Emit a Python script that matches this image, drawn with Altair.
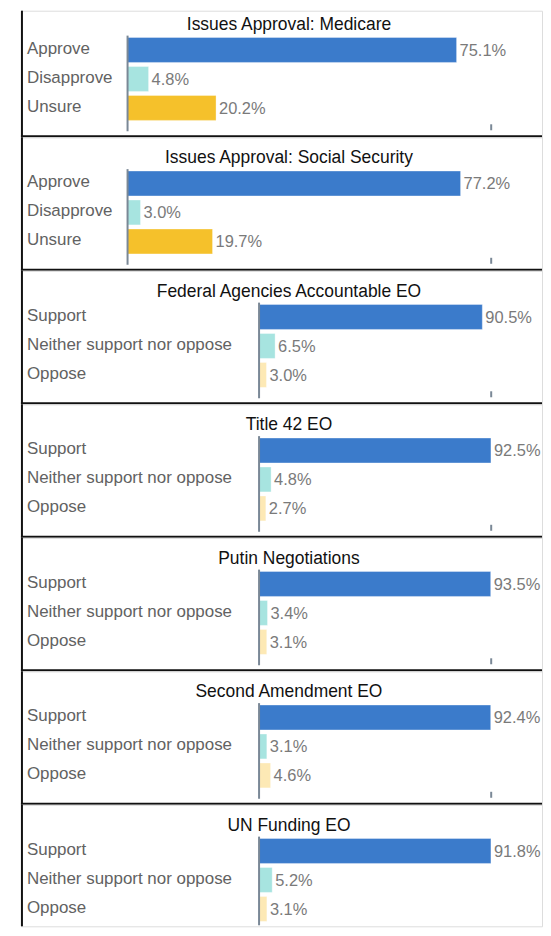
import altair as alt
import pandas as pd

# ---- data ----
titles = [
    "Issues Approval: Medicare",
    "Issues Approval: Social Security",
    "Federal Agencies Accountable EO",
    "Title 42 EO",
    "Putin Negotiations",
    "Second Amendment EO",
    "UN Funding EO",
]
approve_labels = ["Approve", "Disapprove", "Unsure"]
support_labels = ["Support", "Neither support nor oppose", "Oppose"]

medicare = [75.1, 4.8, 20.2]
social_security = [77.2, 3.0, 19.7]
federal_agencies = [90.5, 6.5, 3.0]
title_42 = [92.5, 4.8, 2.7]
putin = [93.5, 3.4, 3.1]
second_amendment = [92.4, 3.1, 4.6]
un_funding = [91.8, 5.2, 3.1]

# horizontal-axis maximum of each panel (where the small end tick sits)
axis_max = [83.0, 84.3, 94.1, 92.6, 93.7, 92.6, 91.9]

# ---- styling ----
BLUE, TEAL, YELLOW, PALE = "#3b7bcb", "#a7e4e0", "#f5c12b", "#fde9b5"
AXIS_COL = "#7a8896"
FONT = "Liberation Sans"
W = 523          # visible width of every panel (page is cropped on the right)
FULL_H = 134     # full panel height
TITLE_X = 269    # centre of the (uncropped) panel
X_END = 472


def panel(i, title, labels, values, colors, x0, cut=0, h=FULL_H, bottom_line=True):
    """cut: pixels removed at the top of the panel, h: visible panel height."""
    df = pd.DataFrame({
        "label": labels,
        "value": values,
        "text": [f"{v:.1f}%" for v in values],
        "color": colors,
    })
    meta = pd.DataFrame({"title": [title], "xmax": [axis_max[i]]})
    xs = alt.Scale(domain=[0, axis_max[i]], range=[x0, X_END], nice=False, zero=True)
    ys = alt.Scale(domain=labels, range=[31 - cut, 120 - cut],
                   paddingInner=0.14, paddingOuter=0.1)

    base = alt.Chart(df)
    yenc = alt.Y("label:N", scale=ys, axis=None, sort=labels)
    bars = base.mark_bar(stroke="white", strokeOpacity=0.35, strokeWidth=1).encode(
        x=alt.X("value:Q", scale=xs, axis=None),
        y=yenc,
        color=alt.Color("color:N", scale=None, legend=None),
    )
    cat_text = base.mark_text(
        align="left", baseline="middle", font=FONT, fontSize=17, color="#626262", dy=-1
    ).encode(x=alt.value(6), y=yenc, text="label:N")
    val_text = base.mark_text(
        align="left", baseline="middle", font=FONT, fontSize=16.5, color="#7a7a7a", dx=3, dy=1
    ).encode(x=alt.X("value:Q", scale=xs, axis=None), y=yenc, text="text:N")

    mbase = alt.Chart(meta)
    layers = [bars, cat_text, val_text]
    layers.append(mbase.mark_text(
        align="center", baseline="alphabetic", font=FONT, fontSize=17.5, color="#111111"
    ).encode(x=alt.value(TITLE_X), y=alt.value(26 - cut), text="title:N"))
    layers.append(mbase.mark_rule(color=AXIS_COL, strokeWidth=2).encode(
        x=alt.value(x0), y=alt.value(32 - cut), y2=alt.value(min(128 - cut, h - 1))
    ))
    if 128 - cut <= h:
        layers.append(mbase.mark_rule(color=AXIS_COL, strokeWidth=2).encode(
            x=alt.X("xmax:Q", scale=xs, axis=None),
            y=alt.value(121 - cut), y2=alt.value(127 - cut)
        ))
    # frame: black rects (exact bounds, nothing spills outside the panel)
    layers.append(mbase.mark_rect(color="#111111").encode(
        x=alt.value(0), x2=alt.value(2), y=alt.value(0), y2=alt.value(h)
    ))
    if bottom_line:
        layers.append(mbase.mark_rect(color="#111111").encode(
            x=alt.value(0), x2=alt.value(W), y=alt.value(h - 2), y2=alt.value(h)
        ))
    return alt.layer(*layers).properties(width=W, height=h)


approve_colors = [BLUE, TEAL, YELLOW]
support_colors = [BLUE, TEAL, PALE]
series = [medicare, social_security, federal_agencies, title_42, putin, second_amendment, un_funding]

charts = []
for i, (t, vals) in enumerate(zip(titles, series)):
    labels = approve_labels if i < 2 else support_labels
    colors = approve_colors if i < 2 else support_colors
    x0 = 107 if i < 2 else 239
    if i == 0:
        charts.append(panel(i, t, labels, vals, colors, x0, cut=7, h=FULL_H - 7))
    elif i == len(titles) - 1:
        charts.append(panel(i, t, labels, vals, colors, x0, h=122, bottom_line=False))
    else:
        charts.append(panel(i, t, labels, vals, colors, x0))

chart = alt.vconcat(*charts, spacing=0, bounds="flush").properties(
    padding={"left": 12, "top": 0, "right": 0, "bottom": 0}
).configure_view(fill="#f2f2f2", stroke=None).configure(background="white")

chart.save("out.html", embed_options={"renderer": "svg", "actions": False})
